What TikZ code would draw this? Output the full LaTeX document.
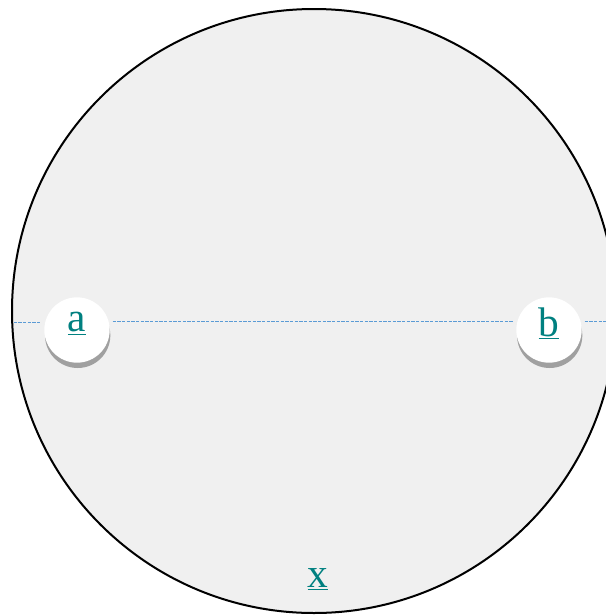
\documentclass[tikz,border=0pt]{standalone}
\usepackage{fontspec}
\setmainfont{Liberation Serif}
\usetikzlibrary{shadows}
\definecolor{labelteal}{RGB}{0,128,128}
\definecolor{linkblue}{RGB}{91,155,213}
\definecolor{ringfill}{RGB}{240,240,240}
\begin{document}
\begin{tikzpicture}[x=0.75pt, y=-0.75pt, line width=0.6pt,
  every node/.style={font=\fontsize{31}{34}\selectfont, text=labelteal},
  ring/.style={circle, draw=black, line width=1.5pt, fill=ringfill, minimum size=453pt, inner sep=0pt},
  port/.style={circle, fill=white, minimum size=49pt, inner sep=0pt,
    drop shadow={shadow xshift=0.5pt, shadow yshift=-4pt, fill=black!45, opacity=0.8}},
  portlabel/.style={label={[yshift=5pt]center:\underline{#1}}},
  link/.style={linkblue, line width=0.75pt, dash pattern=on 2.4pt off 1.1pt, shorten <=2pt, shorten >=2pt}]
  \useasboundingbox (0,0) rectangle (606,615);
  \clip (0,0) rectangle (606,615);
  % Outer circle
  \node[ring] (ring) at (314,311) {};
  % Ports on the circle
  \node[port, portlabel=a] (a) at (77,330) {};
  \node[port, portlabel=b] (b) at (549,330) {};
  \node (x) at (318,579) {\underline{x}};
  % Dashed links
  \draw[link] (ring.west |- 0,322) -- (a.west |- 0,322);
  \draw[link] (a.east |- 0,321) -- (b.west |- 0,321);
  \draw[link] (b.east |- 0,321) -- (ring.east |- 0,321);
\end{tikzpicture}
\end{document}
